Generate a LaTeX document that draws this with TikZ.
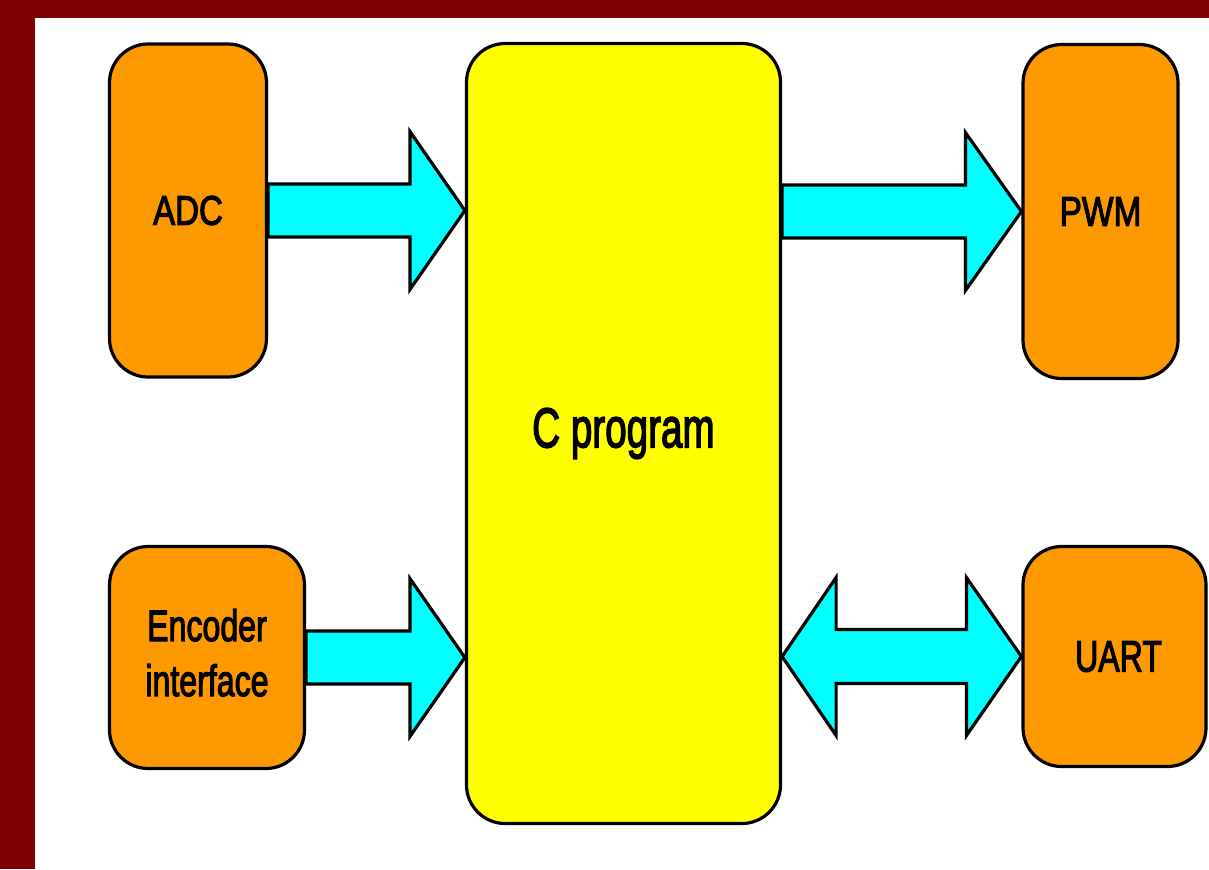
\documentclass[tikz,border=0pt]{standalone}
\usepackage{fontspec}
\setmainfont{Liberation Sans}[FakeBold=3]
\usetikzlibrary{calc}
\definecolor{frame}{HTML}{7F0000}
\definecolor{boxorange}{HTML}{FF9900}
\definecolor{boxyellow}{HTML}{FFFF00}
\definecolor{arrcyan}{HTML}{00FFFF}
\begin{document}
\begin{tikzpicture}[x=0.75pt,y=-0.75pt,
  box/.style={draw=black,line width=2.4pt,rounded corners=29pt,inner sep=0pt,align=center},
  obox/.style={box,fill=boxorange},
  ybox/.style={box,fill=boxyellow},
  blockarrow/.style={draw=black,fill=arrcyan,line width=2.4pt,line join=miter}]
\useasboundingbox (0,0) rectangle (1209,869);
\fill[frame] (0,0) rectangle (1209,869);
\fill[white] (35,18) rectangle (1209,869);
% nodes
\node[ybox,minimum width={314*0.75pt},minimum height={780*0.75pt}] (cprog) at (623.5,433.5)
  {\fontsize{42}{50}\selectfont\scalebox{0.69}[1]{C program}};
\node[obox,minimum width={157*0.75pt},minimum height={333*0.75pt}] (adc) at (188,210.5)
  {\fontsize{31}{36}\selectfont\scalebox{0.8}[1]{ADC}};
\node[obox,minimum width={155*0.75pt},minimum height={334*0.75pt}] (pwm) at (1100.5,211.5)
  {\fontsize{31}{36}\selectfont\scalebox{0.81}[1]{PWM}};
\node[obox,minimum width={195*0.75pt},minimum height={222*0.75pt}] (enc) at (207,657.5)
  {\scalebox{0.73}[1]{\fontsize{33}{41.25}\selectfont\begin{tabular}{@{}c@{}}Encoder\\interface\end{tabular}}};
\node[obox,minimum width={183*0.75pt},minimum height={220*0.75pt}] (uart) at (1114.5,656.5)
  {\fontsize{33}{40}\selectfont\hspace*{6pt}\scalebox{0.73}[1]{UART}};
% arrows
\coordinate (t1) at (cprog.west |- adc.east);
\draw[blockarrow] ($(adc.east)+(0,-26.5)$) -- ($(t1)+(-55,-26.5)$) -- ($(t1)+(-55,-79)$) -- (t1)
  -- ($(t1)+(-55,79)$) -- ($(t1)+(-55,26.5)$) -- ($(adc.east)+(0,26.5)$) -- cycle;
\coordinate (t2) at (cprog.west |- enc.east);
\draw[blockarrow] ($(enc.east)+(0,-26.5)$) -- ($(t2)+(-55,-26.5)$) -- ($(t2)+(-55,-79)$) -- (t2)
  -- ($(t2)+(-55,79)$) -- ($(t2)+(-55,26.5)$) -- ($(enc.east)+(0,26.5)$) -- cycle;
\coordinate (s3) at (cprog.east |- pwm.west);
\draw[blockarrow] ($(s3)+(0,-26.5)$) -- ($(pwm.west)+(-56,-26.5)$) -- ($(pwm.west)+(-56,-79)$) -- (pwm.west)
  -- ($(pwm.west)+(-56,79)$) -- ($(pwm.west)+(-56,26.5)$) -- ($(s3)+(0,26.5)$) -- cycle;
\coordinate (s4) at (cprog.east |- uart.west);
\draw[blockarrow] (s4) -- ($(s4)+(54,-79)$) -- ($(s4)+(54,-27)$) -- ($(uart.west)+(-55,-27)$)
  -- ($(uart.west)+(-55,-79)$) -- (uart.west) -- ($(uart.west)+(-55,79)$) -- ($(uart.west)+(-55,27)$)
  -- ($(s4)+(54,27)$) -- ($(s4)+(54,79)$) -- cycle;
\end{tikzpicture}
\end{document}
